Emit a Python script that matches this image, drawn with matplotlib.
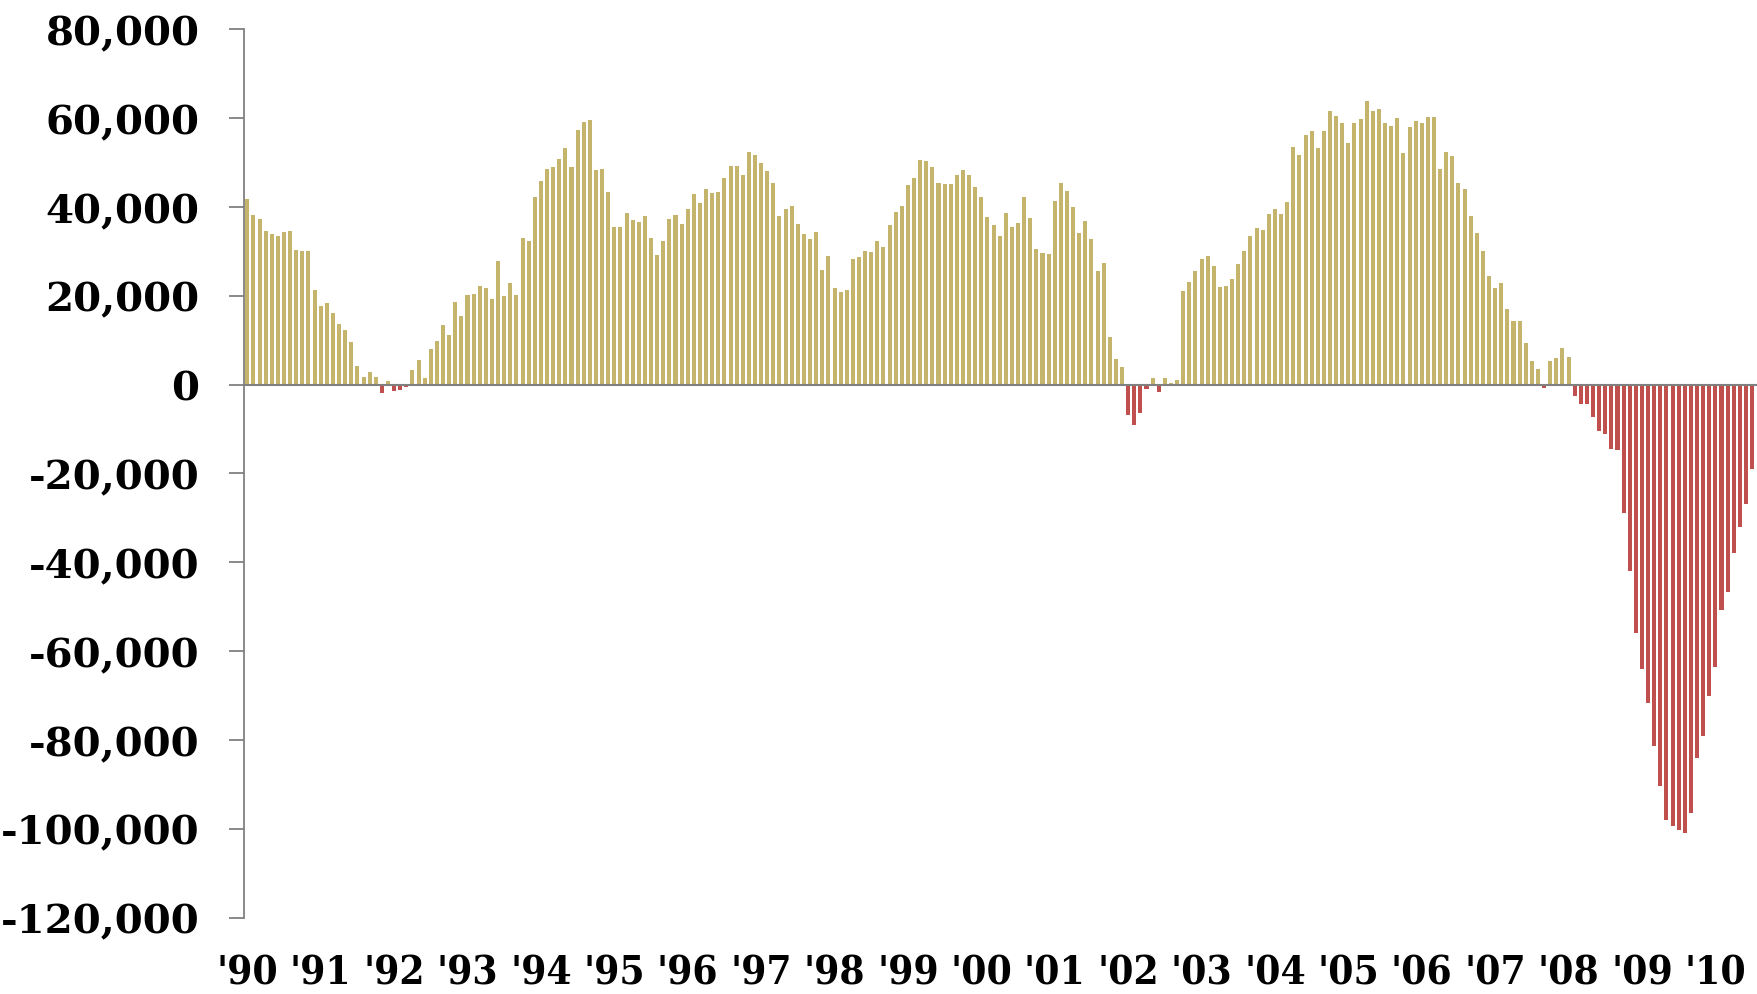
import numpy as np
import matplotlib
matplotlib.use("Agg")
import matplotlib.pyplot as plt

# monthly values, Jan 1990 - Jul 2010
v1990 = [41700, 38200, 37300, 34600, 33900, 33400, 34300, 34600, 30300, 30200, 30000, 21400]
v1991 = [17700, 18300, 16100, 13600, 12300, 9500, 4100, 1700, 2900, 1700, -1800, 800]
v1992 = [-1400, -1100, -600, 3300, 5500, 1600, 8000, 9800, 13400, 11200, 18600, 15500]
v1993 = [20100, 20400, 22200, 21800, 19300, 27800, 20000, 22800, 20100, 33000, 32400, 42200]
v1994 = [45900, 48500, 49000, 50900, 53200, 49000, 57400, 59200, 59500, 48300, 48500, 43300]
v1995 = [35400, 35400, 38600, 37100, 36700, 37900, 33100, 29100, 32300, 37300, 38300, 36100]
v1996 = [39500, 42900, 40800, 44000, 43100, 43400, 46600, 49300, 49300, 47200, 52500, 51700]
v1997 = [50000, 48000, 45500, 38000, 39600, 40200, 36200, 34000, 32700, 34400, 25800, 28900]
v1998 = [21700, 20800, 21400, 28300, 28700, 30000, 29800, 32300, 31000, 36000, 38900, 40300]
v1999 = [44900, 46600, 50700, 50300, 49000, 45400, 45200, 45200, 47100, 48400, 47200, 44500]
v2000 = [42200, 37800, 35900, 33500, 38600, 35400, 36500, 42200, 37500, 30500, 29700, 29400]
v2001 = [41300, 45400, 43600, 40000, 34100, 36900, 32700, 25600, 27300, 10700, 5700, 4000]
v2002 = [-6800, -9000, -6400, -1000, 1400, -1700, 1400, 300, 1100, 21000, 23100, 25600]
v2003 = [28200, 29000, 26800, 22000, 22200, 23700, 27200, 30100, 33500, 35300, 34800, 38400]
v2004 = [39600, 38400, 41100, 53500, 51700, 56200, 57100, 53400, 57100, 61600, 60400, 58900]
v2005 = [54500, 58900, 59800, 63800, 61700, 62000, 58900, 58200, 60000, 52100, 58000, 59400]
v2006 = [59000, 60300, 60200, 48600, 52400, 51400, 45400, 44100, 37900, 34100, 30000, 24500]
v2007 = [21700, 22900, 17100, 14300, 14300, 9300, 5300, 3500, -800, 5300, 5900, 8300]
v2008 = [6200, -2600, -4400, -4300, -7200, -10400, -11100, -14600, -14700, -28900, -42000, -55900]
v2009 = [-64100, -71700, -81300, -90400, -98000, -99500, -100300, -101000, -96400, -84000, -79100, -70200]
v2010 = [-63600, -50800, -46700, -38000, -32000, -26900, -18900]

years = ["'90", "'91", "'92", "'93", "'94", "'95", "'96", "'97", "'98", "'99", "'00",
         "'01", "'02", "'03", "'04", "'05", "'06", "'07", "'08", "'09", "'10"]
yticks = [80000, 60000, 40000, 20000, 0, -20000, -40000, -60000, -80000, -100000, -120000]

vals = np.array(v1990 + v1991 + v1992 + v1993 + v1994 + v1995 + v1996 + v1997 + v1998
                + v1999 + v2000 + v2001 + v2002 + v2003 + v2004 + v2005 + v2006 + v2007
                + v2008 + v2009 + v2010)
x = np.arange(len(vals))
cols = np.where(vals >= 0, "#C4B46C", "#C0504D")

yfnt = {"family": "DejaVu Serif", "weight": "bold", "size": 29}
xfnt = {"family": "DejaVu Serif", "weight": "bold", "size": 29, "stretch": "condensed"}

fig = plt.figure(figsize=(17.58, 9.95), dpi=100)
ax = fig.add_axes((244 / 1758, 1 - 918.5 / 995, 1 - 244 / 1758, (918.5 - 30.4) / 995))
ax.bar(x, vals, width=0.66, color=cols, zorder=2)
ax.axhline(0, color="#808080", lw=1.5, zorder=3)

ax.set_xlim(-0.54, 246.97)
ax.set_ylim(-120000, 80000)
for s in ["top", "right", "bottom"]:
    ax.spines[s].set_visible(False)
ax.spines["left"].set_color("#808080")
ax.spines["left"].set_linewidth(1.3)

ax.set_yticks(yticks)
ax.set_yticklabels([f"{t:,}" for t in yticks], fontdict=yfnt)
ax.tick_params(axis="y", direction="out", length=11, width=1.3, color="#808080", pad=21)
ax.set_xticks(np.arange(len(years)) * 12)
ax.set_xticklabels(years, fontdict=xfnt)
ax.tick_params(axis="x", length=0, pad=26)

fig.savefig("out.png", dpi=100)
